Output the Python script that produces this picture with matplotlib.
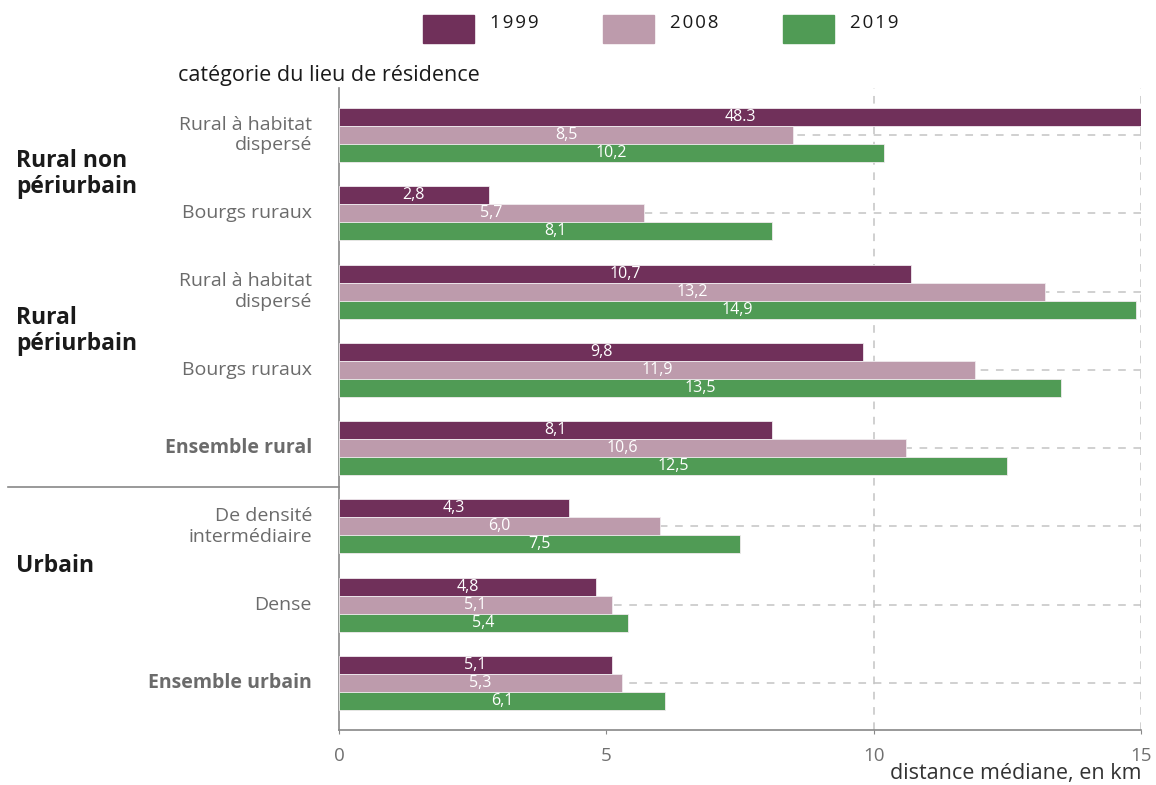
import numpy as np
import matplotlib
matplotlib.use("Agg")
import matplotlib.pyplot as plt
import matplotlib.transforms as mtransforms
from matplotlib.patches import Rectangle

plt.rcParams['font.family'] = ['Open Sans', 'DejaVu Sans']

# median distance by place of residence, labels as printed
categories = ["Rural à habitat\ndispersé", "Bourgs ruraux",
              "Rural à habitat\ndispersé", "Bourgs ruraux",
              "Ensemble rural", "De densité\nintermédiaire",
              "Dense", "Ensemble urbain"]
bold_cats = [4, 7]
years = ["1999", "2008", "2019"]
labels_1999 = ["48.3", "2,8", "10,7", "9,8", "8,1", "4,3", "4,8", "5,1"]
labels_2008 = ["8,5", "5,7", "13,2", "11,9", "10,6", "6,0", "5,1", "5,3"]
labels_2019 = ["10,2", "8,1", "14,9", "13,5", "12,5", "7,5", "5,4", "6,1"]
groups = ["Rural non\npériurbain", "Rural\npériurbain", "Urbain"]
group_pos = [0.5, 2.5, 5.5]
colors = ["#70305a", "#bd9bac", "#509b55"]

series = [labels_1999, labels_2008, labels_2019]
values = [[float(s.replace(",", ".")) for s in lab] for lab in series]

W, H = 1156, 785
fig = plt.figure(figsize=(W / 100, H / 100), dpi=100)
ax = fig.add_axes([339 / W, 1 - 730 / H, 802 / W, 642 / H])

xmax = 15
y = np.arange(len(categories))
bh = 0.23
for k in range(3):
    yy = y + (k - 1) * bh
    ax.barh(yy, values[k], height=bh, color=colors[k], edgecolor="#f0eaee",
            linewidth=0.6, zorder=3)
    for yi, v, lab in zip(yy, values[k], series[k]):
        ax.text(min(v, xmax) / 2, yi, lab, ha="center", va="center",
                color="white", fontsize=11.5, zorder=4)

# dashed guides
for i in y:
    ax.plot([0, xmax], [i, i], color="#c4c4c4", lw=1.1, ls=(0, (5, 5)), zorder=1)
for xv in [10, 15]:
    ax.axvline(xv, color="#c4c4c4", lw=1.1, ls=(0, (5, 5)), zorder=1)

ax.set_xlim(0, xmax)
ax.set_ylim(len(categories) - 0.4, -0.6)
ax.set_xticks([0, 5, 10, 15])
ax.set_xticklabels(["0", "5", "10", "15"], fontsize=13.5, color="#707070")
ax.tick_params(axis="x", length=3, color="#888888", pad=9)
ax.set_yticks([])
for side in ["top", "right"]:
    ax.spines[side].set_visible(False)
for side in ["left", "bottom"]:
    ax.spines[side].set_color("#888888")
    ax.spines[side].set_linewidth(1.2)

trans = mtransforms.blended_transform_factory(ax.transAxes, ax.transData)
for i, cat in enumerate(categories):
    ax.text(-27 / 802, i, cat, transform=trans, ha="right", va="center",
            multialignment="right", fontsize=14, color="#6b6b6b",
            fontweight="bold" if i in bold_cats else "normal",
            linespacing=1.2)

for g, gy in zip(groups, group_pos):
    ax.text(-323 / 802, gy, g, transform=trans, ha="left", va="center",
            fontsize=16.5, fontweight="bold", color="#1a1a1a", linespacing=1.1)

# separator between rural and urban
ax.plot([-331 / 802, 0], [4.49, 4.49], transform=trans, color="#888888",
        lw=1.2, clip_on=False)

fig.text(178 / W, 1 - 75 / H, "catégorie du lieu de résidence", fontsize=15.5,
         color="#1a1a1a", ha="left", va="center")
fig.text(1141 / W, 1 - 774 / H, "distance médiane, en km", fontsize=15.5,
         color="#333333", ha="right", va="center")

# legend
for k, (yr, col) in enumerate(zip(years, colors)):
    x0 = 423 + k * 180
    fig.add_artist(Rectangle((x0 / W, 1 - 43 / H), 51 / W, 28 / H,
                             transform=fig.transFigure, color=col))
    fig.text((x0 + 67) / W, 1 - 23 / H, "\u200a".join(yr), fontsize=13.5,
             color="#1a1a1a", ha="left", va="center")

fig.savefig("out.png", dpi=100)
